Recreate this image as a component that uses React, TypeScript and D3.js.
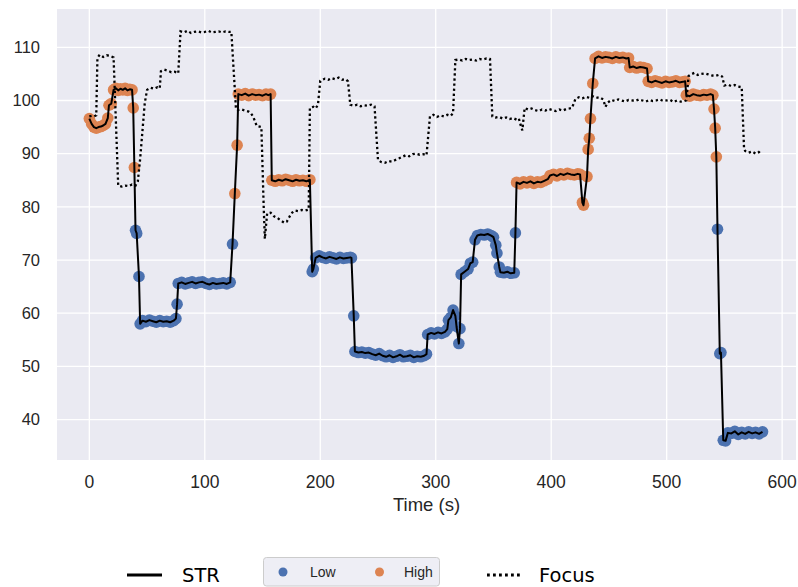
import React from 'react';
import * as d3 from 'd3';

const W = 798;
const H = 587;
const plot = { left: 57, right: 796, top: 9, bottom: 460 };

// STR samples: time (s) and value
const strTime = [
  0, 2, 4, 6, 8, 10, 12, 14, 16, 17, 19, 21, 23, 25, 27, 29, 31, 33, 35, 37,
  38, 39, 40, 41, 43, 44, 46, 49, 52, 55, 58, 61, 64, 67, 70, 73, 75, 76, 77,
  80, 83, 86, 89, 92, 95, 98, 101, 104, 107, 110, 113, 116, 119, 122, 124, 126, 128,
  129, 132, 135, 138, 141, 144, 147, 150, 153, 155, 157,
  158, 161, 164, 167, 170, 173, 176, 179, 182, 185, 188, 191,
  193, 194, 196, 199, 202, 205, 208, 211, 214, 217, 220, 223, 226, 227, 229,
  230, 233, 236, 239, 242, 245, 248, 251, 254, 257, 260, 263, 266, 269, 272, 275, 278, 281, 284, 287, 290, 292,
  293, 296, 299, 302, 305, 308, 310, 311, 313, 315, 317, 318, 320, 321,
  322, 325, 328, 330, 332, 334, 336, 339, 342, 345, 348, 350, 352, 353, 355,
  356, 359, 362, 365, 368, 369,
  370, 373, 376, 379, 382, 385, 388, 391, 394, 397, 399, 402, 405, 408, 411, 414, 417, 420, 423, 425,
  427, 428, 431, 432, 433, 434, 436,
  438, 441, 444, 447, 450, 453, 456, 459, 462, 465, 467,
  468, 471, 474, 477, 480, 483,
  484, 487, 490, 493, 496, 499, 502, 505, 508, 511, 514, 516,
  517, 520, 523, 526, 529, 532, 535, 538, 540,
  541, 542, 543, 544, 546, 547, 549, 551,
  553, 556, 559, 562, 565, 568, 571, 574, 577, 580, 583,
];
const strValue = [
  96.6, 95.6, 95.0, 94.8, 95.0, 95.1, 95.3, 95.6, 96.7, 99.1, 99.4, 102.0, 102.3, 101.9, 102.2, 102.0, 102.3, 101.9, 102.1, 102.0,
  98.6, 87.4, 75.6, 75.0, 66.9, 58.0, 58.6, 58.4, 58.7, 58.5, 58.3, 58.6, 58.4, 58.5, 58.3, 58.6, 59.0, 61.7, 65.6,
  65.8, 65.5, 65.7, 65.9, 65.6, 65.8, 65.9, 65.6, 65.4, 65.7, 65.5, 65.6, 65.7, 65.5, 65.8, 73.0, 82.5, 91.6,
  101.2, 101.0, 101.3, 100.9, 101.2, 101.0, 101.1, 100.9, 101.2, 101.0, 101.2,
  85.0, 84.8, 85.1, 84.9, 85.2, 85.0, 84.8, 85.1, 84.9, 85.0, 84.8, 85.1,
  67.8, 68.3, 70.4, 70.8, 70.5, 70.3, 70.6, 70.4, 70.2, 70.5, 70.3, 70.4, 70.5, 70.4, 59.5,
  52.8, 52.6, 52.7, 52.5, 52.6, 52.3, 52.1, 52.4, 52.0, 51.8, 52.1, 51.7, 51.9, 52.2, 51.8, 51.9, 52.1, 51.7, 51.9, 51.8, 52.0, 52.3,
  56.0, 56.3, 56.1, 56.4, 56.2, 56.5, 57.0, 58.7, 59.2, 60.6, 59.5, 57.5, 54.3, 57.1,
  67.3, 67.8, 68.3, 69.4, 69.6, 73.8, 74.6, 74.8, 74.7, 74.9, 74.6, 74.3, 72.8, 71.3, 68.7,
  67.7, 67.6, 67.8, 67.5, 67.6, 75.1,
  84.6, 84.3, 84.7, 84.5, 84.8, 84.4, 84.7, 84.6, 84.9, 85.2, 85.9, 86.1, 85.8, 86.2, 86.0, 86.3, 86.1, 86.0, 86.2, 86.1,
  80.8, 80.3, 85.7, 90.8, 92.9, 96.6, 103.2,
  107.9, 108.3, 108.0, 108.2, 108.1, 107.9, 108.2, 108.0, 108.1, 107.9, 108.0,
  106.2, 106.4, 106.1, 106.3, 106.2, 106.0,
  103.6, 103.4, 103.7, 103.5, 103.3, 103.6, 103.4, 103.5, 103.7, 103.4, 103.5, 103.6,
  101.0, 100.8, 101.2, 101.0, 100.9, 101.1, 101.0, 101.2, 101.0,
  98.4, 94.8, 89.4, 75.8, 52.4, 52.6, 36.1, 36.0,
  37.5, 37.4, 37.8, 37.2, 37.6, 37.3, 37.7, 37.4, 37.6, 37.3, 37.7,
];

// Focus samples: time (s) and value
const focusTime = [
  0, 2, 4, 6, 7, 9, 12, 15, 18, 21,
  25, 28, 31, 34, 37, 40, 42, 44, 48,
  50, 53, 56, 59, 61, 62, 65, 68, 71, 74, 77,
  79, 82, 85, 88, 91, 94, 97, 100, 103, 106, 109, 112, 115, 118, 121, 123,
  127, 129, 132, 135, 138, 140, 142, 145, 149, 151, 152,
  154, 157, 160, 163, 166, 169, 171, 173, 175, 178, 181, 184, 187, 190,
  191, 194, 196, 198, 200, 201, 204, 207, 210, 213, 216, 219, 222, 224,
  226, 229, 232, 235, 238, 241, 244, 247,
  250, 253, 256, 259, 262, 265, 268, 271, 274, 277, 280, 283, 286, 289, 292,
  295, 298, 301, 304, 307, 310, 313, 315,
  317, 320, 323, 326, 329, 332, 335, 338, 341, 344, 347,
  349, 352, 355, 358, 361, 364, 367, 370, 372, 374, 375,
  377, 380, 383, 386, 389, 392, 395, 398, 401, 404, 407, 410, 413, 416, 418,
  421, 424, 427, 430, 433, 436, 439, 442, 445, 447,
  449, 452, 455, 458, 461, 464, 467, 470, 473, 476, 479, 482, 485, 488, 491, 494, 497, 500, 503, 506, 509, 512, 514, 517,
  519, 521, 524, 527, 530, 533, 536, 539, 542, 545, 548,
  550, 553, 556, 559, 562, 565,
  567, 568, 571, 574, 577, 580, 581,
];
const focusValue = [
  97.0, 97.1, 97.0, 97.2, 108.0, 108.6, 108.2, 108.5, 108.4, 108.1,
  84.0, 83.8, 84.0, 83.9, 84.2, 84.0, 84.8, 89.0, 99.5,
  102.0, 102.4, 102.2, 102.5, 102.3, 105.5, 105.8, 105.6, 105.3, 105.4, 105.1,
  113.0, 112.8, 113.1, 112.7, 112.9, 113.0, 112.8, 112.9, 113.1, 112.8, 112.9, 113.0, 112.8, 113.0, 112.9, 112.9,
  98.4, 98.2, 98.3, 98.1, 97.9, 97.6, 96.9, 95.2, 95.0, 80.0, 74.0,
  78.8, 78.9, 78.2, 77.9, 77.4, 77.0, 77.2, 78.0, 78.8, 79.3, 79.2, 79.4, 79.3, 79.5,
  98.6, 98.8, 98.5, 99.2, 103.7, 103.8, 104.1, 103.9, 104.2, 104.0, 104.3, 103.9, 104.0, 103.6,
  99.2, 99.0, 99.2, 98.9, 99.1, 99.0, 99.2, 98.9,
  88.8, 88.4, 88.3, 88.6, 88.5, 88.8, 89.1, 89.4, 89.7, 89.5, 89.9, 90.0, 89.8, 89.9, 89.7,
  97.0, 97.3, 96.9, 97.2, 97.0, 97.3, 97.1, 97.6,
  107.6, 107.7, 107.5, 107.8, 107.6, 107.7, 107.5, 107.8, 107.7, 107.9, 107.8,
  97.0, 96.8, 96.9, 96.6, 96.8, 96.5, 96.7, 96.4, 96.6, 95.0, 94.4,
  98.6, 98.3, 98.5, 98.2, 98.0, 98.3, 98.1, 98.4, 98.2, 98.0, 98.3, 98.1, 98.4, 98.5, 98.6,
  100.3, 100.6, 100.4, 100.7, 100.5, 100.8, 100.5, 100.6, 100.2, 98.8,
  99.6, 100.1, 99.9, 100.2, 100.0, 99.8, 100.1, 100.0, 99.9, 100.2, 100.0, 99.8, 100.1, 99.9, 100.0, 100.2, 99.9, 100.0, 100.1, 99.7, 100.0, 99.8, 99.8, 100.0,
  104.6, 104.9, 105.2, 104.8, 105.0, 105.1, 104.9, 104.7, 104.6, 104.8, 104.5,
  102.8, 103.0, 102.7, 102.9, 102.6, 102.5,
  91.0, 90.5, 90.2, 90.4, 90.0, 90.3, 90.6,
];

const xTicks = [0, 100, 200, 300, 400, 500, 600];
const yTicks = [40, 50, 60, 70, 80, 90, 100, 110];
const levelNames = ['Low', 'High'];
const levelColors = ['#4C72B0', '#DD8452'];
const highThreshold = 78;

const tickFont = '"Liberation Sans", Arial, sans-serif';
const legendFont = '"DejaVu Sans", sans-serif';

export default function App() {
  const x = d3.scaleLinear().domain([-28, 612]).range([plot.left, plot.right]);
  const y = d3.scaleLinear().domain([32.4, 117.2]).range([plot.bottom, plot.top]);

  const str = strTime.map((t, i) => ({ t, v: strValue[i] }));
  const focus = focusTime.map((t, i) => ({ t, v: focusValue[i] }));

  const line = d3
    .line<{ t: number; v: number }>()
    .x((d) => x(d.t))
    .y((d) => y(d.v));

  const level = (v: number) => (v >= highThreshold ? 1 : 0);

  return (
    <svg
      width={W}
      height={H}
      style={{ position: 'absolute', left: 0, top: 0, display: 'block', background: '#fff' }}
    >
      <defs>
        <clipPath id="plot-clip">
          <rect x={plot.left} y={plot.top} width={plot.right - plot.left} height={plot.bottom - plot.top} />
        </clipPath>
      </defs>

      <rect
        x={plot.left}
        y={plot.top}
        width={plot.right - plot.left}
        height={plot.bottom - plot.top}
        fill="#EAEAF2"
      />
      {xTicks.map((t) => (
        <line key={'gx' + t} x1={x(t)} x2={x(t)} y1={plot.top} y2={plot.bottom} stroke="#fff" strokeWidth={1.3} />
      ))}
      {yTicks.map((v) => (
        <line key={'gy' + v} x1={plot.left} x2={plot.right} y1={y(v)} y2={y(v)} stroke="#fff" strokeWidth={1.3} />
      ))}

      <g clipPath="url(#plot-clip)">
        {str.map((d, i) => (
          <circle key={'p' + i} cx={x(d.t)} cy={y(d.v)} r={5.8} fill={levelColors[level(d.v)]} />
        ))}
        <path d={line(str) ?? ''} fill="none" stroke="#000" strokeWidth={2} strokeLinejoin="round" />
        <path
          d={line(focus) ?? ''}
          fill="none"
          stroke="#000"
          strokeWidth={2.3}
          strokeDasharray="2.3 2.8"
        />
      </g>

      {xTicks.map((t) => (
        <text
          key={'tx' + t}
          x={x(t)}
          y={488}
          textAnchor="middle"
          fontFamily={tickFont}
          fontSize={17.5}
          fill="#262626"
        >
          {t}
        </text>
      ))}
      {yTicks.map((v) => (
        <text
          key={'ty' + v}
          x={40}
          y={y(v) + 5.8}
          textAnchor="end"
          fontFamily={tickFont}
          fontSize={16.5}
          fill="#262626"
        >
          {v}
        </text>
      ))}
      <text
        x={(plot.left + plot.right) / 2}
        y={511}
        textAnchor="middle"
        fontFamily={tickFont}
        fontSize={18.5}
        fill="#262626"
      >
        Time (s)
      </text>

      {/* legend: STR line */}
      <line x1={127} x2={162} y1={575} y2={575} stroke="#000" strokeWidth={2.8} />
      <text x={182} y={582} fontFamily={legendFont} fontSize={19.5} fill="#000">
        STR
      </text>

      {/* legend: Low / High levels */}
      <rect x={263.5} y={557.5} width={176} height={28.5} rx={3} fill="#EAEAF2" fillOpacity={0.8} stroke="#CCCCCC" />
      {levelNames.map((name, i) => (
        <g key={name}>
          <circle cx={283 + i * 96.5} cy={572} r={4.5} fill={levelColors[i]} />
          <text x={310 + i * 94} y={576.5} fontFamily={tickFont} fontSize={14} fill="#262626">
            {name}
          </text>
        </g>
      ))}

      {/* legend: Focus line */}
      <line x1={487} x2={522} y1={575} y2={575} stroke="#000" strokeWidth={2.8} strokeDasharray="2.8 3.2" />
      <text x={539} y={582} fontFamily={legendFont} fontSize={19.5} fill="#000">
        Focus
      </text>
    </svg>
  );
}
